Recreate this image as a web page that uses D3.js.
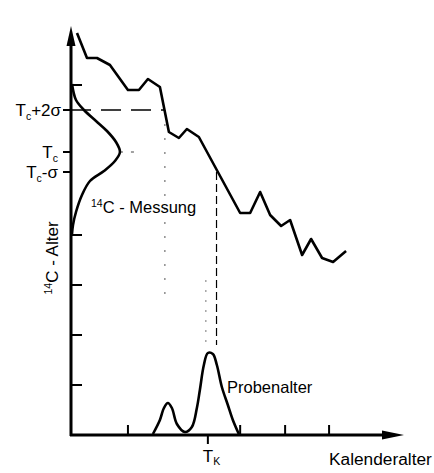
<!DOCTYPE html>
<html>
<head>
<meta charset="utf-8">
<script src="https://cdn.jsdelivr.net/npm/d3@7"></script>
<style>
  body { margin: 0; background: #fff; }
  svg { display: block; font-family: "Liberation Sans", Arial, sans-serif; }
</style>
</head>
<body>
<div id="chart"></div>
<script>
// calibration curve: calendar age (x) vs 14C age (y), arbitrary units
const calX = [1.8, 4.8, 7.8, 11.7, 17.1, 20.4, 23.1, 26.7, 29.4, 32.4, 34.8, 38.4, 50.8, 53.8, 56.8, 59.8, 63.1, 65.8, 69.4, 72.1, 75.4, 78.7, 82.6];
const calY = [8.04, 7.54, 7.54, 7.4, 6.9, 6.9, 7.12, 6.96, 6.06, 5.94, 6.12, 5.96, 4.44, 4.44, 4.86, 4.4, 4.18, 4.3, 3.6, 3.92, 3.54, 3.46, 3.68];

// 14C measurement distribution, drawn against the y axis
const measY = [7.02, 6.7, 6.5, 6.28, 6.08, 5.86, 5.66, 5.48, 5.28, 5.08, 4.8, 4.46, 4.2, 4.02];
const measX = [0.3, 1.5, 3.9, 7.5, 10.8, 13.5, 14.7, 13.2, 9.9, 5.7, 3.3, 1.5, 0.6, 0.3];

// resulting sample age distribution on the calendar axis
const probX = [24.6, 26.7, 27.9, 29.1, 30.3, 31.8, 34.2, 36.3, 37.8, 38.7, 39.9, 41.1, 42.6, 43.8, 45.3, 47.1, 48.6, 50.4];
const probY = [0.02, 0.3, 0.54, 0.64, 0.54, 0.22, 0.06, 0.16, 0.54, 0.9, 1.4, 1.64, 1.62, 1.4, 0.96, 0.6, 0.3, 0.02];

const yTicks = [1, 2, 3, 4, 7];
const xTicks = [17.1, 50.8, 64.3, 77.5];
const tc = 5.66, tcMinus = 5.26, tcPlus2 = 6.5;
const tk = 41.1;
const cut2s = 28.2, cutMinus = 43.7, dotX = 40.5;

const width = 434, height = 473;
const svg = d3.select('#chart').append('svg')
  .attr('width', width)
  .attr('height', height);

const x = d3.scaleLinear().domain([0, 100]).range([71, 404]);
const y = d3.scaleLinear().domain([0, 8.18]).range([435, 26]);
const x0 = x(0), y0 = y(0);

// helper lines
svg.append('line')
  .attr('x1', x0).attr('x2', x(cut2s))
  .attr('y1', y(tcPlus2)).attr('y2', y(tcPlus2))
  .attr('stroke', '#000').attr('stroke-width', 1.5)
  .attr('stroke-dasharray', '20,10');

svg.append('line')
  .attr('x1', x(cut2s)).attr('x2', x(cut2s))
  .attr('y1', y(tcPlus2)).attr('y2', y(2.6))
  .attr('stroke', '#555').attr('stroke-width', 1)
  .attr('stroke-dasharray', '2,12');

svg.append('line')
  .attr('x1', x(cutMinus)).attr('x2', x(cutMinus))
  .attr('y1', y(tcMinus)).attr('y2', y(1.8))
  .attr('stroke', '#000').attr('stroke-width', 1.2)
  .attr('stroke-dasharray', '8,4');

svg.append('line')
  .attr('x1', x(dotX)).attr('x2', x(dotX))
  .attr('y1', y(3.1)).attr('y2', y(1.8))
  .attr('stroke', '#777').attr('stroke-width', 1)
  .attr('stroke-dasharray', '2,8');

svg.append('line')
  .attr('x1', x(14.7)).attr('x2', x(19.5))
  .attr('y1', y(tc)).attr('y2', y(tc))
  .attr('stroke', '#444').attr('stroke-width', 1)
  .attr('stroke-dasharray', '3,8');

// axes
svg.append('line')
  .attr('x1', x0).attr('x2', x0)
  .attr('y1', y0 + 1).attr('y2', y.range()[1] + 14)
  .attr('stroke', '#000').attr('stroke-width', 3);
svg.append('line')
  .attr('x1', x0 - 1).attr('x2', x.range()[1] - 14)
  .attr('y1', y0).attr('y2', y0)
  .attr('stroke', '#000').attr('stroke-width', 3);

svg.append('path')
  .attr('d', `M${x0},${y.range()[1]} L${x0 - 4.5},${y.range()[1] + 20} L${x0 + 4.5},${y.range()[1] + 20} Z`)
  .attr('fill', '#000');
svg.append('path')
  .attr('d', `M${x.range()[1]},${y0} L${x.range()[1] - 22},${y0 - 4.5} L${x.range()[1] - 22},${y0 + 4.5} Z`)
  .attr('fill', '#000');

svg.selectAll('.ytick')
  .data(yTicks)
  .enter().append('line')
    .attr('class', 'ytick')
    .attr('x1', x0).attr('x2', x0 + 11)
    .attr('y1', d => y(d)).attr('y2', d => y(d))
    .attr('stroke', '#000').attr('stroke-width', 2);

svg.selectAll('.ltick')
  .data([tcPlus2, tc, tcMinus])
  .enter().append('line')
    .attr('class', 'ltick')
    .attr('x1', x0 - 8).attr('x2', x0)
    .attr('y1', d => y(d)).attr('y2', d => y(d))
    .attr('stroke', '#000').attr('stroke-width', 2);

svg.selectAll('.xtick')
  .data(xTicks)
  .enter().append('line')
    .attr('class', 'xtick')
    .attr('x1', d => x(d)).attr('x2', d => x(d))
    .attr('y1', y0).attr('y2', y0 - 10)
    .attr('stroke', '#000').attr('stroke-width', 2);

svg.append('line')
  .attr('x1', x(tk)).attr('x2', x(tk))
  .attr('y1', y0).attr('y2', y0 + 9)
  .attr('stroke', '#000').attr('stroke-width', 2);

// curves
const calLine = d3.line()
  .x((d, i) => x(calX[i]))
  .y(d => y(d));
svg.append('path')
  .attr('d', calLine(calY))
  .attr('fill', 'none').attr('stroke', '#000')
  .attr('stroke-width', 2.6).attr('stroke-linejoin', 'round');

const measLine = d3.line()
  .x((d, i) => x(measX[i]))
  .y(d => y(d))
  .curve(d3.curveCatmullRom);
svg.append('path')
  .attr('d', measLine(measY))
  .attr('fill', 'none').attr('stroke', '#000')
  .attr('stroke-width', 2.6);

const probLine = d3.line()
  .x(d => x(d))
  .y((d, i) => y(probY[i]))
  .curve(d3.curveCatmullRom);
svg.append('path')
  .attr('d', probLine(probX))
  .attr('fill', 'none').attr('stroke', '#000')
  .attr('stroke-width', 2.6);

// labels
function tLabel(val, suffix, xEnd) {
  const t = svg.append('text')
    .attr('x', xEnd).attr('y', y(val) + 6)
    .attr('text-anchor', 'end')
    .attr('font-size', 17);
  t.append('tspan').text('T');
  t.append('tspan').attr('font-size', 10.5).attr('dy', 4).text('c');
  if (suffix) t.append('tspan').attr('dy', -4).text(suffix);
}
tLabel(tcPlus2, '+2σ', 61);
tLabel(tc, '', 58);
tLabel(tcMinus, '-σ', 58);

const mLabel = svg.append('text')
  .attr('x', 91).attr('y', 213)
  .attr('font-size', 16.5);
mLabel.append('tspan').attr('font-size', 10.5).attr('dy', -6).text('14');
mLabel.append('tspan').attr('dy', 6).text('C - Messung');

svg.append('text')
  .attr('x', 227).attr('y', 393)
  .attr('font-size', 16.5)
  .text('Probenalter');

svg.append('text')
  .attr('x', 329).attr('y', 465)
  .attr('font-size', 17.3)
  .text('Kalenderalter');

const tkLabel = svg.append('text')
  .attr('x', x(tk) - 5).attr('y', 462)
  .attr('font-size', 17);
tkLabel.append('tspan').text('T');
tkLabel.append('tspan').attr('font-size', 10.5).attr('dy', 3).text('K');

const yLabel = svg.append('text')
  .attr('transform', 'translate(58,258) rotate(-90)')
  .attr('text-anchor', 'middle')
  .attr('font-size', 17);
yLabel.append('tspan').attr('font-size', 10.5).attr('dy', -6).text('14');
yLabel.append('tspan').attr('dy', 6).text('C - Alter');
</script>
</body>
</html>
